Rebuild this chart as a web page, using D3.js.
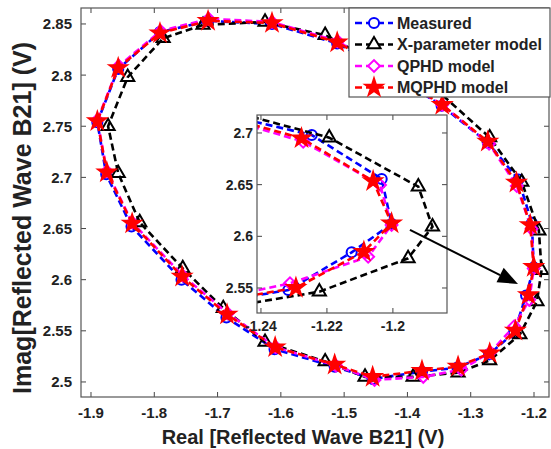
<!DOCTYPE html>
<html>
<head>
<meta charset="utf-8">
<script src="https://cdn.jsdelivr.net/npm/d3@7"></script>
<style>
  body { margin: 0; background: #fff; }
  svg { display: block; font-family: "Liberation Sans", Arial, sans-serif; font-weight: bold; }
</style>
</head>
<body>
<svg id="chart" width="551" height="449"></svg>
<script>
// --- data (real, imag) ---
var measured = [
  [-1.836, 2.652], [-1.876, 2.703], [-1.890, 2.754], [-1.857, 2.806], [-1.791, 2.842],
  [-1.715, 2.853], [-1.614, 2.850], [-1.511, 2.831], [-1.428, 2.803], [-1.346, 2.770],
  [-1.273, 2.734], [-1.2246, 2.698], [-1.2034, 2.6555], [-1.2004, 2.612], [-1.2125, 2.5845],
  [-1.2317, 2.548], [-1.271, 2.527], [-1.321, 2.514], [-1.377, 2.510], [-1.455, 2.503],
  [-1.515, 2.515], [-1.610, 2.532], [-1.686, 2.563], [-1.757, 2.600]
];
var xparam = [
  [-1.823, 2.656], [-1.857, 2.704], [-1.873, 2.750], [-1.842, 2.798], [-1.786, 2.836],
  [-1.723, 2.849], [-1.625, 2.852], [-1.530, 2.839], [-1.440, 2.810], [-1.362, 2.790],
  [-1.270, 2.739], [-1.2193, 2.6955], [-1.1923, 2.648], [-1.188, 2.6093], [-1.1954, 2.5787],
  [-1.2223, 2.5464], [-1.270, 2.521], [-1.320, 2.509], [-1.391, 2.505], [-1.467, 2.505],
  [-1.530, 2.520], [-1.625, 2.539], [-1.691, 2.572], [-1.755, 2.611]
];
var qphd = [
  [-1.835, 2.656], [-1.875, 2.706], [-1.890, 2.756], [-1.856, 2.809], [-1.790, 2.843],
  [-1.714, 2.855], [-1.614, 2.852], [-1.510, 2.833], [-1.428, 2.802], [-1.345, 2.771],
  [-1.271, 2.733], [-1.2272, 2.6916], [-1.2039, 2.6497], [-1.2004, 2.611], [-1.2075, 2.5803],
  [-1.2312, 2.5545], [-1.269, 2.529], [-1.315, 2.512], [-1.375, 2.505], [-1.452, 2.502],
  [-1.513, 2.516], [-1.608, 2.534], [-1.684, 2.567], [-1.755, 2.604]
];
var mqphd = [
  [-1.835, 2.655], [-1.875, 2.705], [-1.890, 2.755], [-1.857, 2.807], [-1.791, 2.841],
  [-1.715, 2.853], [-1.614, 2.851], [-1.511, 2.832], [-1.428, 2.803], [-1.345, 2.771],
  [-1.273, 2.735], [-1.2277, 2.6949], [-1.206, 2.6535], [-1.2004, 2.6126], [-1.2088, 2.5851],
  [-1.2294, 2.5502], [-1.270, 2.528], [-1.320, 2.515], [-1.377, 2.511], [-1.455, 2.505],
  [-1.515, 2.517], [-1.609, 2.534], [-1.685, 2.566], [-1.756, 2.603]
];
var seriesNames = ["Measured", "X-parameter model", "QPHD model", "MQPHD model"];

var xTicks = [-1.9, -1.8, -1.7, -1.6, -1.5, -1.4, -1.3, -1.2];
var yTicks = [2.5, 2.55, 2.6, 2.65, 2.7, 2.75, 2.8, 2.85];
var insetXTicks = [-1.24, -1.22, -1.2];
var insetYTicks = [2.55, 2.6, 2.65, 2.7];
var arrowPts = [[-1.396, 2.6486], [-1.2253, 2.5958]];

// styles for each series
var styles = [
  { color: "#0000ff", sym: d3.symbolCircle, size: 80, fill: "none" },
  { color: "#000000", sym: d3.symbolTriangle, size: 75, fill: "none" },
  { color: "#ff00ff", sym: d3.symbolSquare, size: 70, fill: "none", rot: 45 },
  { color: "#ff0000", sym: d3.symbolStar, size: 90, fill: "#ff0000" }
];
var allData = [measured, xparam, qphd, mqphd];

var svg = d3.select("#chart");

// main axes box
var L = 81, R = 549, T = 8, B = 397;
var x = d3.scaleLinear().domain([-1.9158, -1.1763]).range([L, R]);
var y = d3.scaleLinear().domain([2.4853, 2.8656]).range([B, T]);

// inset box
var iL = 257, iR = 447, iT = 115, iB = 313;
var ix = d3.scaleLinear().domain([-1.2412, -1.1836]).range([iL, iR]);
var iy = d3.scaleLinear().domain([2.5258, 2.7174]).range([iB, iT]);

var defs = svg.append("defs");
defs.append("clipPath").attr("id", "clipMain").append("rect")
  .attr("x", L).attr("y", T).attr("width", R - L).attr("height", B - T);
defs.append("clipPath").attr("id", "clipInset").append("rect")
  .attr("x", iL).attr("y", iT).attr("width", iR - iL).attr("height", iB - iT);

function drawPanel(g, sx, sy, clipId) {
  var line = d3.line().x(function(d) { return sx(d[0]); }).y(function(d) { return sy(d[1]); });
  var cg = g.append("g").attr("clip-path", "url(#" + clipId + ")");
  allData.forEach(function(data, i) {
    var st = styles[i];
    var closed = data.concat([data[0]]);
    cg.append("path")
      .attr("d", line(closed))
      .attr("fill", "none")
      .attr("stroke", st.color)
      .attr("stroke-width", 2.6)
      .attr("stroke-dasharray", "7,4");
    cg.selectAll(null)
      .data(data)
      .enter()
      .append("path")
      .attr("d", d3.symbol().type(st.sym).size(st.size))
      .attr("transform", function(d) {
        return "translate(" + sx(d[0]) + "," + sy(d[1]) + ")" + (st.rot ? " rotate(" + st.rot + ")" : "");
      })
      .attr("fill", st.fill)
      .attr("stroke", st.color)
      .attr("stroke-width", 2);
  });
}

function drawAxes(g, sx, sy, xt, yt, fmtX, fmtY, fs, yLabelGap, xLabelY) {
  var x0 = sx.range()[0], x1 = sx.range()[1], y0 = sy.range()[0], y1 = sy.range()[1];
  var tl = 5;
  // ticks point inward on all four sides
  xt.forEach(function(t) {
    g.append("line").attr("x1", sx(t)).attr("x2", sx(t)).attr("y1", y0).attr("y2", y0 - tl)
      .attr("stroke", "#444").attr("stroke-width", 1);
    g.append("line").attr("x1", sx(t)).attr("x2", sx(t)).attr("y1", y1).attr("y2", y1 + tl)
      .attr("stroke", "#444").attr("stroke-width", 1);
    g.append("text").attr("x", sx(t)).attr("y", xLabelY).attr("text-anchor", "middle")
      .attr("font-size", fs).attr("fill", "#222").text(fmtX(t));
  });
  yt.forEach(function(t) {
    g.append("line").attr("x1", x0).attr("x2", x0 + tl).attr("y1", sy(t)).attr("y2", sy(t))
      .attr("stroke", "#444").attr("stroke-width", 1);
    g.append("line").attr("x1", x1).attr("x2", x1 - tl).attr("y1", sy(t)).attr("y2", sy(t))
      .attr("stroke", "#444").attr("stroke-width", 1);
    g.append("text").attr("x", x0 - yLabelGap).attr("y", sy(t)).attr("dy", "0.36em")
      .attr("text-anchor", "end").attr("font-size", fs).attr("fill", "#222").text(fmtY(t));
  });
  g.append("rect").attr("x", x0).attr("y", y1).attr("width", x1 - x0).attr("height", y0 - y1)
    .attr("fill", "none").attr("stroke", "#555").attr("stroke-width", 1.2);
}

var fmt = function(v) { return String(+v.toFixed(2)); };

// main panel
var gMain = svg.append("g");
drawPanel(gMain, x, y, "clipMain");
drawAxes(gMain, x, y, xTicks, yTicks, fmt, fmt, 15, 9, 418);

// inset panel
var gInset = svg.append("g");
gInset.append("rect").attr("x", iL).attr("y", iT).attr("width", iR - iL).attr("height", iB - iT)
  .attr("fill", "#fff");
drawPanel(gInset, ix, iy, "clipInset");
drawAxes(gInset, ix, iy, insetXTicks, insetYTicks, fmt, fmt, 14, 4, 331);

// arrow
var a0 = [x(arrowPts[0][0]), y(arrowPts[0][1])], a1 = [x(arrowPts[1][0]), y(arrowPts[1][1])];
var ang = Math.atan2(a1[1] - a0[1], a1[0] - a0[0]);
var headLen = 20, headW = 8;
var bx = a1[0] - headLen * Math.cos(ang), by = a1[1] - headLen * Math.sin(ang);
svg.append("line").attr("x1", a0[0]).attr("y1", a0[1]).attr("x2", bx).attr("y2", by)
  .attr("stroke", "#000").attr("stroke-width", 2);
svg.append("path")
  .attr("d", "M" + a1[0] + "," + a1[1] +
    "L" + (bx + headW * Math.sin(ang)) + "," + (by - headW * Math.cos(ang)) +
    "L" + (bx - headW * Math.sin(ang)) + "," + (by + headW * Math.cos(ang)) + "Z")
  .attr("fill", "#000");

// legend
var lg = svg.append("g");
lg.append("rect").attr("x", 349).attr("y", 8).attr("width", 201).attr("height", 89)
  .attr("fill", "#fff").attr("stroke", "#555").attr("stroke-width", 1.2);
seriesNames.forEach(function(name, i) {
  var st = styles[i];
  var ry = 23 + i * 21.5;
  lg.append("line").attr("x1", 355).attr("x2", 393).attr("y1", ry).attr("y2", ry)
    .attr("stroke", st.color).attr("stroke-width", 2.6).attr("stroke-dasharray", "7,4");
  lg.append("path")
    .attr("d", d3.symbol().type(st.sym).size(st.size))
    .attr("transform", "translate(374," + ry + ")" + (st.rot ? " rotate(" + st.rot + ")" : ""))
    .attr("fill", st.fill === "none" ? "#fff" : st.fill)
    .attr("stroke", st.color).attr("stroke-width", 2);
  lg.append("text").attr("x", 397).attr("y", ry).attr("dy", "0.36em")
    .attr("font-size", 16).attr("fill", "#222").text(name);
});

// axis titles
svg.append("text").attr("x", 303).attr("y", 444).attr("text-anchor", "middle")
  .attr("font-size", 20).attr("fill", "#222").text("Real [Reflected Wave B21] (V)");
svg.append("text").attr("transform", "translate(31,218) rotate(-90)").attr("text-anchor", "middle")
  .attr("font-size", 25).attr("fill", "#222").text("Imag[Reflected Wave B21] (V)");
</script>
</body>
</html>
